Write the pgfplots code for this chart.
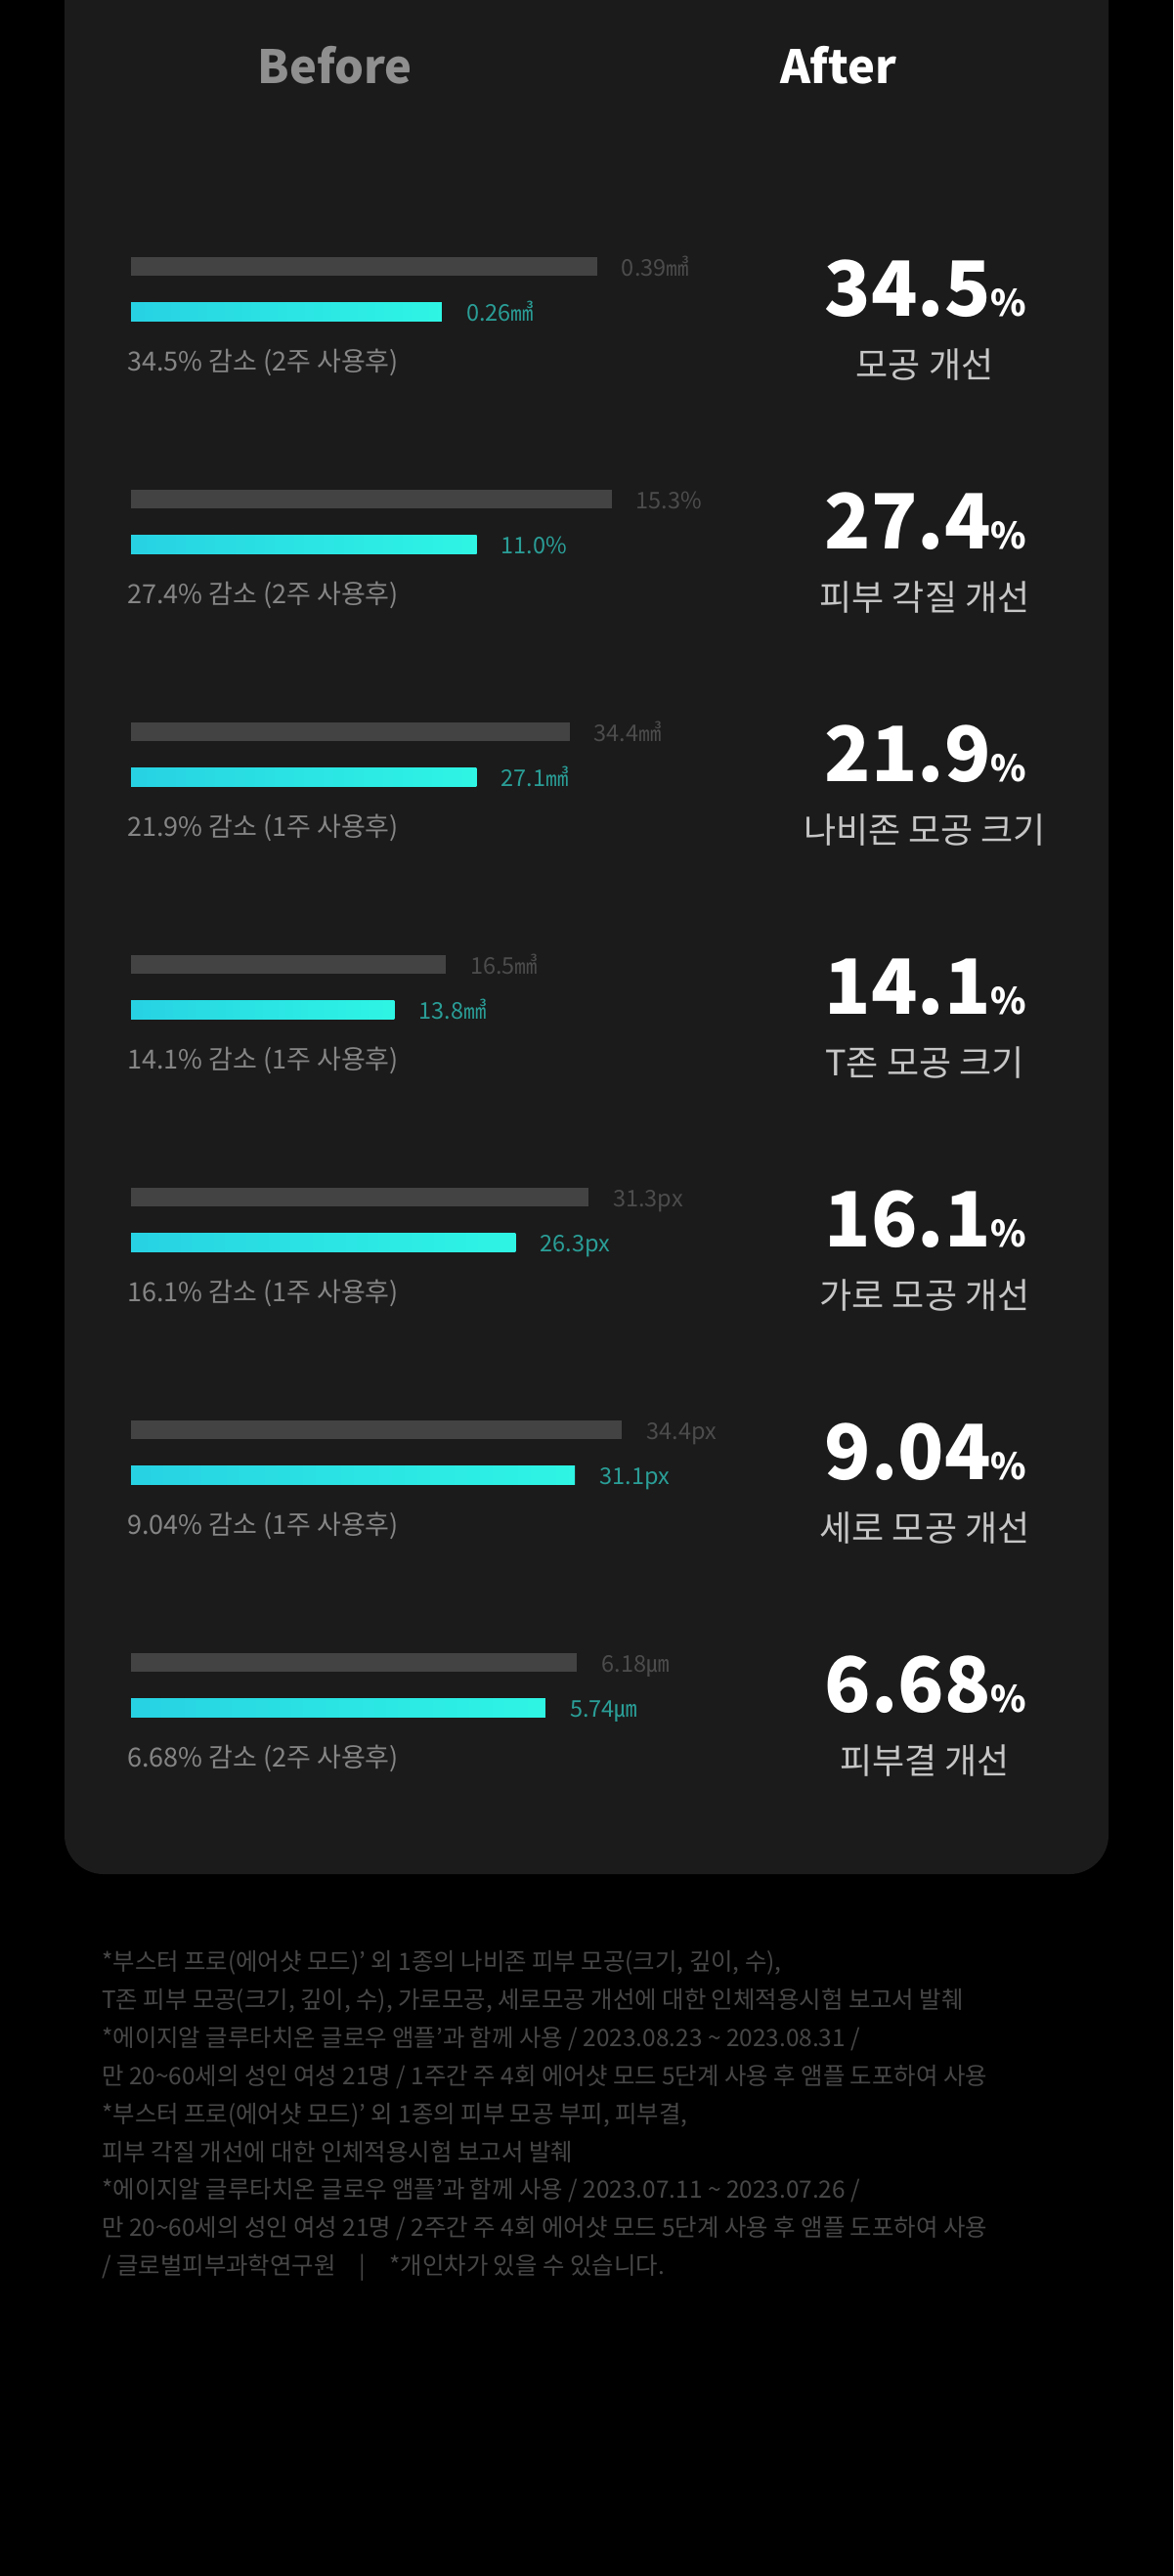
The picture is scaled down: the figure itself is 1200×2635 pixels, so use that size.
\documentclass[border=0pt]{standalone}
\usepackage{fontspec}
\setmainfont{Noto Sans CJK KR}
\usepackage{pgfplots}
\pgfplotsset{compat=1.18}

\definecolor{bgpanel}{HTML}{1B1B1B}
\definecolor{bargray}{HTML}{434343}
\definecolor{cyanL}{HTML}{27D2E3}
\definecolor{cyanR}{HTML}{2EF5E4}
\definecolor{labgray}{HTML}{4C4C4C}
\definecolor{labcyan}{HTML}{2A9E97}
\definecolor{desc}{HTML}{858585}
\definecolor{subc}{HTML}{C6C6C6}
\definecolor{beforec}{HTML}{8F8F8F}
\definecolor{foot}{HTML}{474747}

\newcommand\labfont{\fontsize{23.5}{23.5}\selectfont}
\newcommand\descfont{\fontsize{27}{27}\selectfont}
\newcommand\bigfont{\fontsize{78}{78}\selectfont\bfseries}
\newcommand\pctfont{\fontsize{37}{37}\selectfont\bfseries}
\newcommand\subfont{\fontsize{36}{36}\selectfont}
\newcommand\footfont{\fontsize{24.4}{24.4}\selectfont}

\pgfplotsset{
  grp/.style={anchor=west, scale only axis, width=600pt, height=92pt,
    xmin=0, ymin=-0.5, ymax=1.5, hide axis, clip=false},
  graybar/.style={xbar, bar width=19pt, bar shift=0pt, draw=none, fill=bargray,
    point meta=explicit symbolic, nodes near coords,
    nodes near coords style={anchor=base west, xshift=25pt, yshift=-9.5pt, inner sep=0pt,
      font=\labfont, text=labgray}},
  cyanbar/.style={xbar, bar width=19pt, bar shift=0pt, draw=none, left color=cyanL, right color=cyanR,
    point meta=explicit symbolic, nodes near coords,
    nodes near coords style={anchor=base west, xshift=25pt, yshift=-9.5pt, inner sep=0pt,
      font=\labfont, text=labcyan}},
}

\begin{document}
\begin{tikzpicture}
\useasboundingbox (0pt,0pt) rectangle (1200pt,-2635pt);
\begin{scope}[x=1pt,y=-1pt]
\clip (0,0) rectangle (1200,2635);
\fill[black] (0,0) rectangle (1200,2635);
\fill[bgpanel, rounded corners=40pt] (66,-80) rectangle (1134,1917);

\node[anchor=base, inner sep=0, text=beforec, font=\fontsize{47}{47}\selectfont\bfseries] at (342.5,85) {Before};
\node[anchor=base, inner sep=0, text=white, font=\fontsize{47}{47}\selectfont\bfseries] at (857.5,85) {After};

% descriptions
\node[anchor=base west, inner sep=0, text=desc, font=\descfont] at (130,379.5) {34.5\% 감소 (2주 사용후)};
\node[anchor=base west, inner sep=0, text=desc, font=\descfont] at (130,617.5) {27.4\% 감소 (2주 사용후)};
\node[anchor=base west, inner sep=0, text=desc, font=\descfont] at (130,855.5) {21.9\% 감소 (1주 사용후)};
\node[anchor=base west, inner sep=0, text=desc, font=\descfont] at (130,1093.5) {14.1\% 감소 (1주 사용후)};
\node[anchor=base west, inner sep=0, text=desc, font=\descfont] at (130,1331.5) {16.1\% 감소 (1주 사용후)};
\node[anchor=base west, inner sep=0, text=desc, font=\descfont] at (130,1569.5) {9.04\% 감소 (1주 사용후)};
\node[anchor=base west, inner sep=0, text=desc, font=\descfont] at (130,1807.5) {6.68\% 감소 (2주 사용후)};

% big numbers
\node[anchor=base, inner sep=0, text=white] at (947,323) {\bigfont 34.5{\pctfont\%}};
\node[anchor=base, inner sep=0, text=white] at (947,561) {\bigfont 27.4{\pctfont\%}};
\node[anchor=base, inner sep=0, text=white] at (947,799) {\bigfont 21.9{\pctfont\%}};
\node[anchor=base, inner sep=0, text=white] at (947,1037) {\bigfont 14.1{\pctfont\%}};
\node[anchor=base, inner sep=0, text=white] at (947,1275) {\bigfont 16.1{\pctfont\%}};
\node[anchor=base, inner sep=0, text=white] at (947,1513) {\bigfont 9.04{\pctfont\%}};
\node[anchor=base, inner sep=0, text=white] at (947,1751) {\bigfont 6.68{\pctfont\%}};

% subtitles
\node[anchor=base, inner sep=0, text=subc, font=\subfont] at (946,386) {모공 개선};
\node[anchor=base, inner sep=0, text=subc, font=\subfont] at (946,624) {피부 각질 개선};
\node[anchor=base, inner sep=0, text=subc, font=\subfont] at (946,862) {나비존 모공 크기};
\node[anchor=base, inner sep=0, text=subc, font=\subfont] at (946,1100) {T존 모공 크기};
\node[anchor=base, inner sep=0, text=subc, font=\subfont] at (946,1338) {가로 모공 개선};
\node[anchor=base, inner sep=0, text=subc, font=\subfont] at (946,1576) {세로 모공 개선};
\node[anchor=base, inner sep=0, text=subc, font=\subfont] at (946,1814) {피부결 개선};

% footnotes
\node[anchor=base west, inner sep=0, text=foot, font=\footfont] at (104,2015.5) {*부스터 프로(에어샷 모드)’ 외 1종의 나비존 피부 모공(크기, 깊이, 수),};
\node[anchor=base west, inner sep=0, text=foot, font=\footfont] at (104,2054.4) {T존 피부 모공(크기, 깊이, 수), 가로모공, 세로모공 개선에 대한 인체적용시험 보고서 발췌};
\node[anchor=base west, inner sep=0, text=foot, font=\footfont] at (104,2093.3) {*에이지알 글루타치온 글로우 앰플’과 함께 사용 / 2023.08.23 \textasciitilde{} 2023.08.31 /};
\node[anchor=base west, inner sep=0, text=foot, font=\footfont] at (104,2132.2) {만 20\textasciitilde 60세의 성인 여성 21명 / 1주간 주 4회 에어샷 모드 5단계 사용 후 앰플 도포하여 사용};
\node[anchor=base west, inner sep=0, text=foot, font=\footfont] at (104,2171.1) {*부스터 프로(에어샷 모드)’ 외 1종의 피부 모공 부피, 피부결,};
\node[anchor=base west, inner sep=0, text=foot, font=\footfont] at (104,2210.0) {피부 각질 개선에 대한 인체적용시험 보고서 발췌};
\node[anchor=base west, inner sep=0, text=foot, font=\footfont] at (104,2248.9) {*에이지알 글루타치온 글로우 앰플’과 함께 사용 / 2023.07.11 \textasciitilde{} 2023.07.26 /};
\node[anchor=base west, inner sep=0, text=foot, font=\footfont] at (104,2287.8) {만 20\textasciitilde 60세의 성인 여성 21명 / 2주간 주 4회 에어샷 모드 5단계 사용 후 앰플 도포하여 사용};
\node[anchor=base west, inner sep=0, text=foot, font=\footfont] at (104,2326.7) {/ 글로벌피부과학연구원\hspace{24pt}|\hspace{24pt}*개인차가 있을 수 있습니다.};
\end{scope}

% bar groups
\begin{axis}[grp, at={(134pt,-295.5pt)}, xmax=0.4908]
\addplot[graybar] coordinates {(0.39,1) [0.39㎣]};
\addplot[cyanbar] coordinates {(0.26,0) [0.26㎣]};
\end{axis}
\begin{axis}[grp, at={(134pt,-533.5pt)}, xmax=18.67]
\addplot[graybar] coordinates {(15.3,1) [15.3\%]};
\addplot[cyanbar] coordinates {(11.0,0) [11.0\%]};
\end{axis}
\begin{axis}[grp, at={(134pt,-771.5pt)}, xmax=46.02]
\addplot[graybar] coordinates {(34.4,1) [34.4㎣]};
\addplot[cyanbar] coordinates {(27.1,0) [27.1㎣]};
\end{axis}
\begin{axis}[grp, at={(134pt,-1009.5pt)}, xmax=30.74]
\addplot[graybar] coordinates {(16.5,1) [16.5㎣]};
\addplot[cyanbar] coordinates {(13.8,0) [13.8㎣]};
\end{axis}
\begin{axis}[grp, at={(134pt,-1247.5pt)}, xmax=40.12]
\addplot[graybar] coordinates {(31.3,1) [31.3px]};
\addplot[cyanbar] coordinates {(26.3,0) [26.3px]};
\end{axis}
\begin{axis}[grp, at={(134pt,-1485.5pt)}, xmax=41.08]
\addplot[graybar] coordinates {(34.4,1) [34.4px]};
\addplot[cyanbar] coordinates {(31.1,0) [31.1px]};
\end{axis}
\begin{axis}[grp, at={(134pt,-1723.5pt)}, xmax=8.125]
\addplot[graybar] coordinates {(6.18,1) [6.18㎛]};
\addplot[cyanbar] coordinates {(5.74,0) [5.74㎛]};
\end{axis}
\end{tikzpicture}
\end{document}
